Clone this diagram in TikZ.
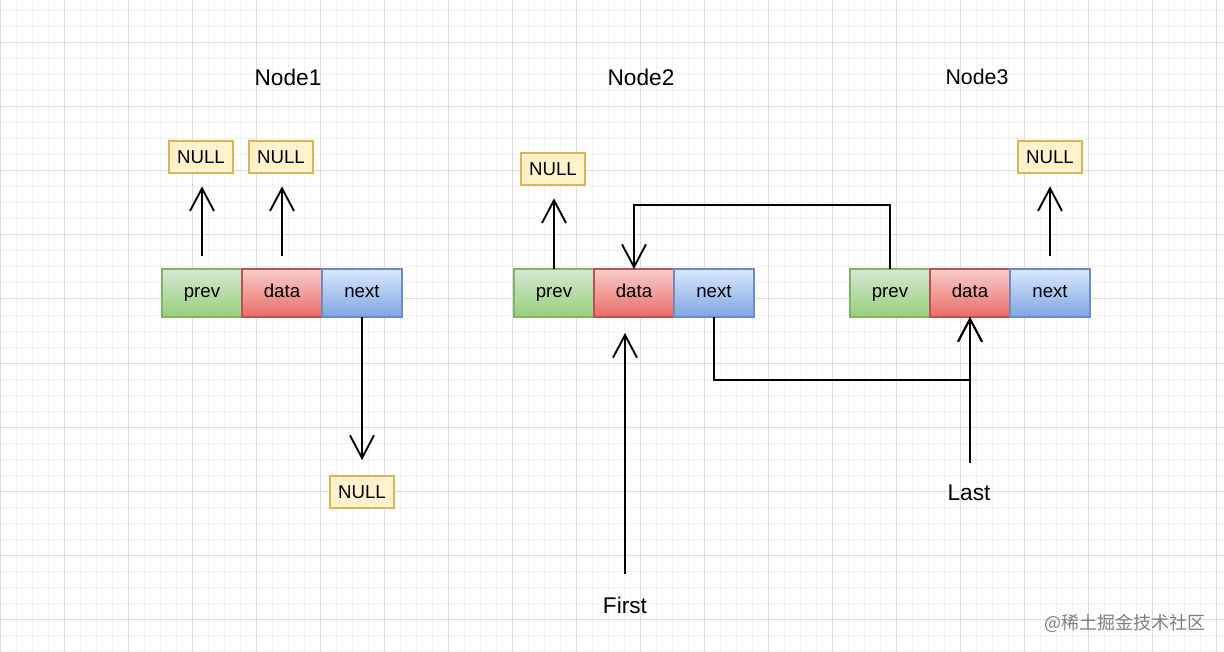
\documentclass[tikz,border=0pt]{standalone}
\usepackage{fontspec}
\setmainfont{Liberation Sans}
\newfontfamily\cjkfont{Noto Sans CJK SC}
\usetikzlibrary{positioning,arrows.meta}
\definecolor{gridminor}{HTML}{F2F2F2}
\definecolor{gridmajor}{HTML}{DDDDDD}
\definecolor{nullfill}{HTML}{FFF2CC}
\definecolor{nullline}{HTML}{D6B656}
\definecolor{prevtop}{HTML}{D5E8D4}
\definecolor{prevbot}{HTML}{97D077}
\definecolor{prevline}{HTML}{82B366}
\definecolor{datatop}{HTML}{F8CECC}
\definecolor{databot}{HTML}{EA6B66}
\definecolor{dataline}{HTML}{B85450}
\definecolor{nexttop}{HTML}{DAE8FC}
\definecolor{nextbot}{HTML}{7EA6E0}
\definecolor{nextline}{HTML}{6C8EBF}
\tikzset{
  minorline/.style={draw=gridminor, line width=0.75pt},
  majorline/.style={draw=gridmajor, line width=0.75pt},
  cell/.style={minimum width=60pt, minimum height=36pt, inner sep=0pt, outer sep=0pt, line width=1pt,
    text height=1.6ex, text depth=0.4ex, font=\fontsize{14}{16}\selectfont},
  prevcell/.style={cell, draw=prevline, top color=prevtop, bottom color=prevbot},
  datacell/.style={cell, draw=dataline, top color=datatop, bottom color=databot},
  nextcell/.style={cell, draw=nextline, top color=nexttop, bottom color=nextbot},
  nullbox/.style={draw=nullline, fill=nullfill, line width=1pt, minimum width=48pt, minimum height=24pt,
    inner sep=0pt, outer sep=0pt, font=\fontsize{14}{16}\selectfont},
  title/.style={inner sep=0pt, font=\fontsize{17}{20}\selectfont},
  ptr/.style={line width=1.4pt, -{Straight Barb[length=17pt, width=18pt, line width=1.4pt]}},
}

\begin{document}
\begin{tikzpicture}[x=0.75pt, y=-0.75pt]
\useasboundingbox (0,0) rectangle (1224,652);
\fill[white] (0,0) rectangle (1224,652);
% grid
\foreach \gx in {0,16,...,1224} \draw[minorline] (\gx,0) -- (\gx,652);
\foreach \gy in {11,27,...,652} \draw[minorline] (0,\gy) -- (1224,\gy);
\foreach \gx in {0,64,...,1224} \draw[majorline] (\gx,0) -- (\gx,652);
\foreach \gy in {43,107,...,652} \draw[majorline] (0,\gy) -- (1224,\gy);

% titles
\node[title] (title1) at (288,77) {Node1};
\node[title] (title2) at (641,77) {Node2};
\node[title, font=\fontsize{16}{20}\selectfont] (title3) at (977,77) {Node3};

% node 1
\node[prevcell] (prev1) at (202,293) {prev};
\node[datacell, right=0pt of prev1] (data1) {data};
\node[nextcell, right=0pt of data1] (next1) {next};
% node 2
\node[prevcell] (prev2) at (554,293) {prev};
\node[datacell, right=0pt of prev2] (data2) {data};
\node[nextcell, right=0pt of data2] (next2) {next};
% node 3
\node[prevcell] (prev3) at (890,293) {prev};
\node[datacell, right=0pt of prev3] (data3) {data};
\node[nextcell, right=0pt of data3] (next3) {next};

% NULL boxes
\node[nullbox] (nullA) at (201,157) {NULL};
\node[nullbox] (nullB) at (281,157) {NULL};
\node[nullbox] (nullC) at (362,492) {NULL};
\node[nullbox] (nullD) at (553,169) {NULL};
\node[nullbox] (nullE) at (1050,157) {NULL};

% pointers to NULL
\draw[ptr, shorten <=10pt, shorten >=10pt] (prev1.north) -- (prev1.north |- nullA.south);
\draw[ptr, shorten <=10pt, shorten >=10pt] (data1.north) -- (data1.north |- nullB.south);
\draw[ptr, shorten >=12pt] (next1.south) -- (next1.south |- nullC.north);
\draw[ptr, shorten >=10pt] (prev2.north) -- (prev2.north |- nullD.south);
\draw[ptr, shorten <=10pt, shorten >=10pt] (next3.north) -- (next3.north |- nullE.south);

% links between nodes
\draw[ptr] (prev3.north) -- ++(0,-64) -| (data2.north);
\draw[ptr] (next2.south) -- ++(0,63) -| (data3.south);

% head and tail
\node[title] (first) at (625,605) {First};
\node[title] (last) at (969,493) {Last};
\draw[ptr, shorten <=17pt, shorten >=12pt] (first.north) -- (first.north |- data2.south);
\draw[ptr, shorten <=16pt] (data3.south |- last.north) -- (data3.south);

\node[font=\cjkfont\fontsize{13.5}{15}\selectfont, text=black!50, inner sep=0pt] (mark) at (1125,623) {@稀土掘金技术社区};
\end{tikzpicture}
\end{document}
